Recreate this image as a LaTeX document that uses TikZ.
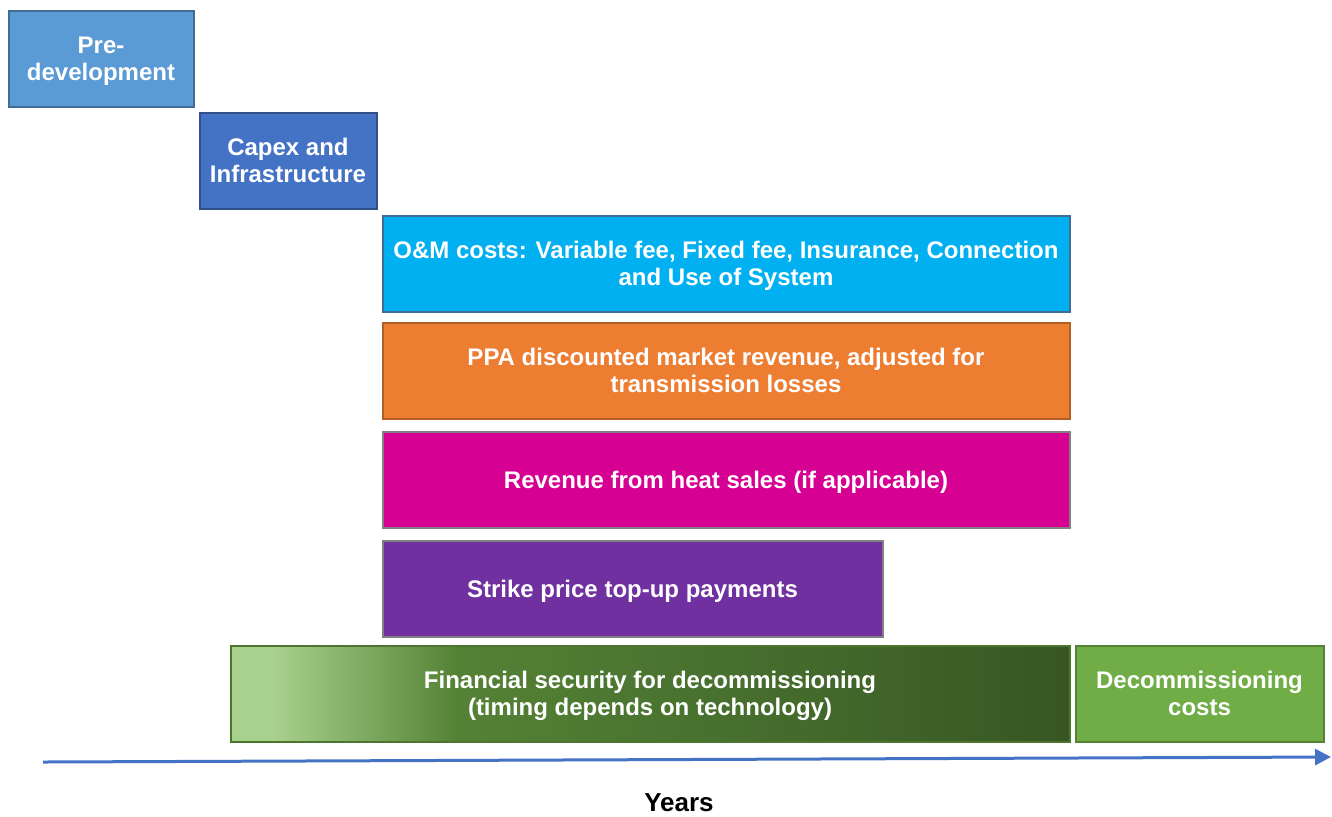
\documentclass[tikz,border=0pt]{standalone}
\usepackage{fontspec}
\setmainfont{Liberation Sans}
\usepackage{xcolor}
\usepackage{tikz}
\usetikzlibrary{positioning, arrows.meta}

\definecolor{predevblue}{HTML}{5B9BD5}
\definecolor{capexblue}{HTML}{4472C4}
\definecolor{omcyan}{HTML}{00B0F0}
\definecolor{ppaorange}{HTML}{ED7D31}
\definecolor{heatpink}{HTML}{D60093}
\definecolor{strikepurple}{HTML}{7030A0}
\definecolor{decomgreen}{HTML}{70AD47}
\definecolor{gA}{HTML}{A9D18E}
\definecolor{gB}{HTML}{548235}
\definecolor{gC}{HTML}{476F2E}
\definecolor{gD}{HTML}{375623}

% path is mapped onto 25bp..75bp of the shading
\pgfdeclarehorizontalshading{finshade}{100bp}{color(0bp)=(gA); color(27.5bp)=(gA); color(38.5bp)=(gB); color(55bp)=(gC); color(75bp)=(gD); color(100bp)=(gD)}

\begin{document}
\begin{tikzpicture}[
    x=0.5pt, y=-0.5pt,
    phase/.style={rectangle, line width=1pt, inner sep=0pt, outer sep=0pt, text=white, align=center,
        font=\fontsize{12}{13.5}\selectfont\bfseries, text depth=0pt, minimum height=48pt},
    arrow/.style={-{Triangle[length=8pt, width=8pt]}, line width=1.5pt, draw=capexblue}
]
\useasboundingbox (0,0) rectangle (1332,816);

% Project phases, top to bottom
\node[phase, fill=predevblue, draw=predevblue!70!black, minimum width=92.5pt, anchor=north west] (predev) at (8.5,10.5) {Pre-\\development};
\node[phase, fill=capexblue, draw=capexblue!70!black, minimum width=88.5pt, below right=3pt and 3pt of predev.south east] (capex) {Capex and\\Infrastructure};
\node[phase, fill=omcyan, draw=predevblue!70!black, minimum width=343.5pt, below right=3.5pt and 3pt of capex.south east] (om) {O\&M costs: Variable fee, Fixed fee, Insurance, Connection\\and Use of System};
\node[phase, fill=ppaorange, draw=ppaorange!75!black, minimum width=343.5pt, below=5.5pt of om] (ppa) {PPA discounted market revenue, adjusted for\\transmission losses};
\node[phase, fill=heatpink, draw=gray, minimum width=343.5pt, below=6.5pt of ppa] (heat) {Revenue from heat sales (if applicable)};
\node[phase, fill=strikepurple, draw=gray, minimum width=250pt, below right=6.5pt and 0pt of heat.south west] (strike) {Strike price top-up payments};
\node[phase, shading=finshade, draw=gB!90!black, minimum width=419.5pt, anchor=north west] (finsec) at (230.5,645.5) {Financial security for decommissioning\\(timing depends on technology)};
\node[phase, fill=decomgreen, draw=gB, minimum width=124pt, right=3pt of finsec] (decom) {Decommissioning\\costs};

% Time axis
\coordinate (tstart) at (43,762);
\coordinate (tend) at (1331,757);
\draw[arrow] (tstart) -- (tend);
\node[font=\fontsize{13}{15}\selectfont\bfseries] (years) at (679,803) {Years};

\end{tikzpicture}
\end{document}
